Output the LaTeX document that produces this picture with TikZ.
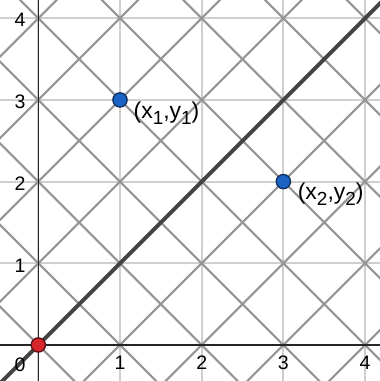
\documentclass[tikz,border=0pt]{standalone}
\usepackage{fontspec}
\setmainfont{Liberation Sans}
\definecolor{gridgray}{HTML}{CFCFCF}
\definecolor{diaggray}{HTML}{959595}
\definecolor{maingray}{HTML}{444444}
\definecolor{dotblue}{HTML}{1A62C4}
\definecolor{dotblueedge}{HTML}{0E2F5E}
\definecolor{dotred}{HTML}{D8262D}
\definecolor{dotrededge}{HTML}{5A1012}
\newcommand{\sbsc}[1]{\raisebox{-0.5ex}{\fontsize{6.6pt}{7pt}\selectfont #1}}
\begin{document}
\begin{tikzpicture}[x=1cm,y=1cm,
  gridline/.style={draw=gridgray, line width=0.75pt},
  diagline/.style={draw=diaggray, line width=0.75pt},
  axisline/.style={draw=black!85, line width=0.55pt},
  mainline/.style={draw=maingray, line width=1.35pt},
  ptdot/.style={circle, inner sep=0pt, minimum size=0.175cm, line width=0.45pt},
  tick/.style={inner sep=0pt, font=\fontsize{6.8pt}{8pt}\selectfont},
  ptlabel/.style={inner sep=0pt, anchor=west, font=\fontsize{8pt}{9.5pt}\selectfont}]
\useasboundingbox (-0.469,-0.441) rectangle (4.182,4.223);
\clip (-0.469,-0.441) rectangle (4.182,4.223);
% grid
\draw[gridline] (-1,-1) grid (5,5);
% diagonals
\foreach \k in {-6,...,10}{
  \draw[diagline] (\k+1,-1) -- (\k-6,6);
  \draw[diagline] (\k-1,-1) -- (\k+6,6);
}
% axes
\draw[axisline] (-1,0) -- (5,0);
\draw[axisline] (0,-1) -- (0,5);
% main diagonal
\draw[mainline] (-1,-1) -- (5,5);
% tick labels
\node[tick] (t0) at (-0.224,-0.245) {0};
\foreach \i in {1,...,4}{
  \node[tick] (tx\i) at (\i,-0.22) {\i};
  \node[tick] (ty\i) at (-0.224,\i-0.025) {\i};
}
% points
\node[ptdot, fill=dotred, draw=dotrededge] (o) at (0,0) {};
\node[ptdot, fill=dotblue, draw=dotblueedge] (p1) at (1,3) {};
\node[ptdot, fill=dotblue, draw=dotblueedge] (p2) at (3,2) {};
\node[ptlabel] (l1) at (1.16,2.84) {(x\sbsc{1},y\sbsc{1})};
\node[ptlabel] (l2) at (3.17,1.85) {(x\sbsc{2},y\sbsc{2})};
\end{tikzpicture}
\end{document}
